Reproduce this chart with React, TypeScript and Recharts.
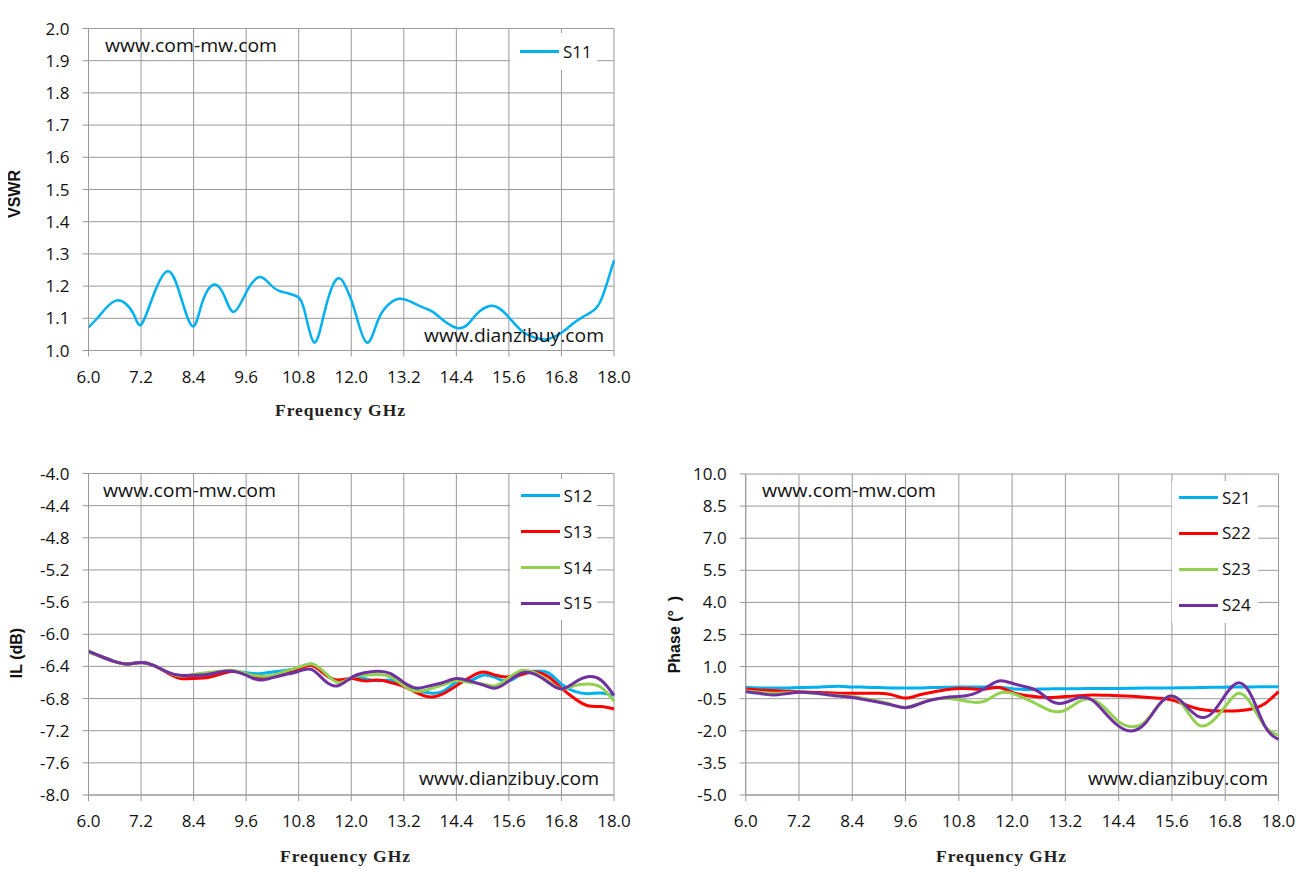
import { LineChart, Line, XAxis, YAxis, CartesianGrid, Legend } from "recharts";

const FONT = "'Open Sans', sans-serif";
const GRID = "#999999";

const CYAN = "#00B0F0";
const RED = "#FF0000";
const GREEN = "#92D050";
const PURPLE = "#7030A0";

// shared frequency axis ticks (GHz)
const freqTicks = [6.0, 7.2, 8.4, 9.6, 10.8, 12.0, 13.2, 14.4, 15.6, 16.8, 18.0];

// VSWR chart
const vswrTicks = [1.0, 1.1, 1.2, 1.3, 1.4, 1.5, 1.6, 1.7, 1.8, 1.9, 2.0];
const freqS11 = [
  6.0, 6.2, 6.4, 6.63, 6.85, 7.04, 7.2, 7.45, 7.8, 8.1, 8.38, 8.6, 8.87, 9.1, 9.32,
  9.6, 9.9, 10.15, 10.35, 10.55, 10.73, 10.92, 11.15, 11.39, 11.67, 11.9, 12.09, 12.35,
  12.6, 12.83, 13.06, 13.3, 13.62, 13.86, 14.14, 14.42, 14.65, 14.88, 15.16, 15.39,
  15.62, 15.9, 16.19, 16.47, 16.8, 17.03, 17.3, 17.58, 17.77, 18.0,
];
const s11 = [
  1.072, 1.1, 1.132, 1.155, 1.145, 1.11, 1.08, 1.16, 1.246, 1.17, 1.075, 1.15, 1.205,
  1.17, 1.12, 1.18, 1.228, 1.205, 1.185, 1.178, 1.17, 1.13, 1.025, 1.12, 1.222, 1.19,
  1.12, 1.025, 1.09, 1.14, 1.16, 1.155, 1.135, 1.12, 1.09, 1.07, 1.08, 1.115, 1.138,
  1.13, 1.1, 1.06, 1.04, 1.035, 1.055, 1.08, 1.105, 1.13, 1.18, 1.28,
];

// shared sample grid for IL and phase
const freqGrid = [
  6.0, 6.3, 6.6, 6.9, 7.2, 7.5, 7.8, 8.1, 8.4, 8.7, 9.0, 9.3, 9.6, 9.9, 10.2, 10.5,
  10.8, 11.1, 11.4, 11.7, 12.0, 12.3, 12.6, 12.9, 13.2, 13.5, 13.8, 14.1, 14.4, 14.7,
  15.0, 15.3, 15.6, 15.9, 16.2, 16.5, 16.8, 17.1, 17.4, 17.7, 18.0,
];

// insertion loss (dB)
const ilTicks = [-8.0, -7.6, -7.2, -6.8, -6.4, -6.0, -5.6, -5.2, -4.8, -4.4, -4.0];
const s12 = [
  -6.22, -6.28, -6.34, -6.37, -6.35, -6.39, -6.47, -6.53, -6.52, -6.51, -6.48, -6.46,
  -6.48, -6.49, -6.47, -6.45, -6.42, -6.37, -6.49, -6.58, -6.55, -6.55, -6.58, -6.57,
  -6.64, -6.7, -6.73, -6.71, -6.6, -6.58, -6.51, -6.54, -6.58, -6.49, -6.46, -6.48,
  -6.62, -6.71, -6.74, -6.73, -6.76,
];
const s13 = [
  -6.22, -6.28, -6.34, -6.37, -6.35, -6.39, -6.48, -6.55, -6.55, -6.54, -6.5, -6.46,
  -6.5, -6.55, -6.52, -6.49, -6.43, -6.39, -6.5, -6.57, -6.55, -6.58, -6.57, -6.6,
  -6.65, -6.73, -6.78, -6.74, -6.64, -6.54, -6.47, -6.51, -6.53, -6.5, -6.47, -6.53,
  -6.67, -6.8, -6.89, -6.9, -6.93,
];
const s14 = [
  -6.22, -6.28, -6.34, -6.37, -6.35, -6.39, -6.47, -6.52, -6.5, -6.48, -6.46, -6.45,
  -6.49, -6.52, -6.51, -6.46, -6.41, -6.37, -6.48, -6.6, -6.54, -6.51, -6.5, -6.53,
  -6.64, -6.71, -6.68, -6.63, -6.58, -6.6, -6.62, -6.64, -6.54, -6.45, -6.48, -6.58,
  -6.68, -6.64, -6.62, -6.66, -6.83,
];
const s15 = [
  -6.21, -6.28, -6.34, -6.37, -6.35, -6.39, -6.47, -6.51, -6.51, -6.5, -6.47, -6.46,
  -6.51, -6.57, -6.54, -6.5, -6.46, -6.44, -6.58, -6.64, -6.54, -6.48, -6.46, -6.49,
  -6.6, -6.67, -6.64, -6.6, -6.55, -6.58, -6.63, -6.67, -6.58, -6.48, -6.5, -6.6,
  -6.68, -6.6, -6.53, -6.57, -6.76,
];

// phase (deg)
const phaseTicks = [-5.0, -3.5, -2.0, -0.5, 1.0, 2.5, 4.0, 5.5, 7.0, 8.5, 10.0];
const s21 = [
  0.03, 0.0, 0.0, 0.0, 0.02, 0.03, 0.06, 0.08, 0.05, 0.04, 0.02, 0.0, 0.0, 0.0, 0.02,
  0.03, 0.05, 0.05, 0.05, 0.04, -0.03, -0.07, -0.05, -0.04, -0.03, -0.03, -0.02, -0.02,
  -0.02, -0.01, 0.0, 0.0, 0.0, 0.01, 0.02, 0.03, 0.04, 0.05, 0.05, 0.06, 0.06,
];
const s22 = [
  -0.05, -0.09, -0.12, -0.15, -0.18, -0.2, -0.22, -0.24, -0.25, -0.25, -0.25, -0.32,
  -0.47, -0.33, -0.2, -0.08, -0.02, -0.04, -0.05, 0.02, -0.2, -0.35, -0.42, -0.44,
  -0.4, -0.36, -0.33, -0.34, -0.36, -0.39, -0.43, -0.48, -0.56, -0.78, -0.98, -1.06,
  -1.07, -1.06, -0.98, -0.72, -0.17,
];
const s23 = [
  -0.14, -0.2, -0.25, -0.22, -0.2, -0.24, -0.3, -0.35, -0.4, -0.5, -0.62, -0.78, -0.9,
  -0.72, -0.55, -0.48, -0.55, -0.66, -0.6, -0.25, -0.25, -0.5, -0.8, -1.08, -1.03,
  -0.64, -0.53, -0.95, -1.57, -1.81, -1.57, -0.8, -0.37, -0.95, -1.73, -1.57, -0.87,
  -0.25, -0.8, -1.81, -2.2,
];
const s24 = [
  -0.17, -0.25, -0.33, -0.27, -0.2, -0.22, -0.3, -0.38, -0.44, -0.55, -0.67, -0.8,
  -0.92, -0.75, -0.55, -0.44, -0.4, -0.3, 0.0, 0.33, 0.22, 0.06, -0.17, -0.64, -0.68,
  -0.45, -0.56, -1.18, -1.78, -2.01, -1.65, -0.8, -0.37, -0.8, -1.34, -1.18, -0.33,
  0.25, -0.4, -1.81, -2.4,
];

const vswrData = freqS11.map((f, i) => ({ f, S11: s11[i] }));
const ilData = freqGrid.map((f, i) => ({ f, S12: s12[i], S13: s13[i], S14: s14[i], S15: s15[i] }));
const phaseData = freqGrid.map((f, i) => ({ f, S21: s21[i], S22: s22[i], S23: s23[i], S24: s24[i] }));

const tickStyle = { fill: "#111", fontSize: 17, fontFamily: FONT };
const fmt = (v: number) => v.toFixed(1);

function legendContent(rows: number[], lineLeft: number, textLeft: number) {
  return (props: any) => (
    <div style={{ position: "relative", width: "100%", height: "100%" }}>
      {(props.payload || []).map((p: any, i: number) => (
        <div key={p.value} style={{ position: "absolute", top: rows[i] - 10, left: 0, height: 20, width: "100%" }}>
          <div
            style={{
              position: "absolute",
              left: lineLeft,
              top: 8.75,
              width: 39,
              height: 2.5,
              background: p.color,
            }}
          />
          <span
            style={{
              position: "absolute",
              left: textLeft,
              top: 0,
              lineHeight: "20px",
              fontSize: 17,
              fontFamily: FONT,
              color: "#111",
            }}
          >
            {p.value}
          </span>
        </div>
      ))}
    </div>
  );
}

interface PanelProps {
  left: number;
  top: number;
  width: number;
  height: number;
  margin: { top: number; right: number; bottom: number; left: number };
  data: any[];
  yTicks: number[];
  series: { key: string; color: string }[];
  legendBox: { left: number; top: number; width: number; height: number };
  legendRows: number[];
  lineLeft: number;
  textLeft: number;
  strokeWidth: number;
}

function Panel(p: PanelProps) {
  return (
    <div style={{ position: "absolute", left: p.left, top: p.top }}>
      <LineChart width={p.width} height={p.height} data={p.data} margin={p.margin}>
        <CartesianGrid stroke={GRID} strokeWidth={1} />
        <XAxis
          dataKey="f"
          type="number"
          domain={[6, 18]}
          ticks={freqTicks}
          tickFormatter={fmt}
          interval={0}
          height={30}
          tick={tickStyle}
          tickSize={6}
          tickMargin={14}
          axisLine={{ stroke: GRID }}
          tickLine={{ stroke: GRID }}
        />
        <YAxis
          type="number"
          domain={[p.yTicks[0], p.yTicks[p.yTicks.length - 1]]}
          ticks={p.yTicks}
          tickFormatter={fmt}
          interval={0}
          width={60}
          tick={tickStyle}
          tickSize={6}
          tickMargin={13}
          axisLine={{ stroke: GRID }}
          tickLine={{ stroke: GRID }}
          allowDataOverflow
        />
        <Legend
          layout="horizontal"
          verticalAlign="middle"
          align="center"
          wrapperStyle={{ ...p.legendBox, background: "#fff", margin: 0, padding: 0 }}
          content={legendContent(p.legendRows, p.lineLeft, p.textLeft)}
        />
        {p.series.map((s) => (
          <Line
            key={s.key}
            dataKey={s.key}
            name={s.key}
            type="natural"
            stroke={s.color}
            strokeWidth={p.strokeWidth}
            dot={false}
            activeDot={false}
            isAnimationActive={false}
          />
        ))}
      </LineChart>
    </div>
  );
}

const titleStyle = { fontFamily: "'Liberation Serif', serif", fontWeight: 700, fontSize: 17.5, fill: "#222" };
const yTitleStyle = { fontFamily: "'Liberation Sans', Arial, sans-serif", fontWeight: 700, fontSize: 16, fill: "#111" };
const markStyle = { fontFamily: FONT, fontSize: 19, fill: "#111" };

export default function App() {
  return (
    <div style={{ position: "relative", width: 1292, height: 869 }}>
      <Panel
        left={0}
        top={0}
        width={640}
        height={430}
        margin={{ top: 20.5, right: 34, bottom: 57.5, left: 20.5 }}
        data={vswrData}
        yTicks={vswrTicks}
        series={[{ key: "S11", color: CYAN }]}
        legendBox={{ left: 502, top: 25, width: 87, height: 37 }}
        legendRows={[18.7]}
        lineLeft={10}
        textLeft={53}
        strokeWidth={2.5}
      />
      <Panel
        left={0}
        top={445}
        width={640}
        height={430}
        margin={{ top: 20.5, right: 34, bottom: 58, left: 20.5 }}
        data={ilData}
        yTicks={ilTicks}
        series={[
          { key: "S12", color: CYAN },
          { key: "S13", color: RED },
          { key: "S14", color: GREEN },
          { key: "S15", color: PURPLE },
        ]}
        legendBox={{ left: 502, top: 26, width: 87, height: 141 }}
        legendRows={[16.7, 52.7, 88.7, 124.3]}
        lineLeft={10.5}
        textLeft={53.5}
        strokeWidth={3}
      />
      <Panel
        left={650}
        top={445}
        width={650}
        height={430}
        margin={{ top: 21, right: 29.5, bottom: 58, left: 27.7 }}
        data={phaseData}
        yTicks={phaseTicks}
        series={[
          { key: "S21", color: CYAN },
          { key: "S22", color: RED },
          { key: "S23", color: GREEN },
          { key: "S24", color: PURPLE },
        ]}
        legendBox={{ left: 513.7, top: 27.7, width: 86.3, height: 142.3 }}
        legendRows={[17, 52.6, 88.6, 124.6]}
        lineLeft={7.3}
        textLeft={50.3}
        strokeWidth={3}
      />
      <svg
        width={1308}
        height={885}
        style={{ position: "absolute", left: -8, top: -8, pointerEvents: "none" }}
      >
        <text x={105} y={51.7} textLength={172} lengthAdjust="spacingAndGlyphs" style={markStyle}>www.com-mw.com</text>
        <text x={424} y={342} textLength={180} lengthAdjust="spacingAndGlyphs" style={markStyle}>www.dianzibuy.com</text>
        <text x={103} y={496.7} textLength={173} lengthAdjust="spacingAndGlyphs" style={markStyle}>www.com-mw.com</text>
        <text x={419} y={785} textLength={180} lengthAdjust="spacingAndGlyphs" style={markStyle}>www.dianzibuy.com</text>
        <text x={762} y={496.7} textLength={174} lengthAdjust="spacingAndGlyphs" style={markStyle}>www.com-mw.com</text>
        <text x={1088} y={785} textLength={180} lengthAdjust="spacingAndGlyphs" style={markStyle}>www.dianzibuy.com</text>

        <text x={275} y={416} textLength={130} lengthAdjust="spacing" style={titleStyle}>Frequency GHz</text>
        <text x={280} y={862} textLength={130} lengthAdjust="spacing" style={titleStyle}>Frequency GHz</text>
        <text x={936} y={862} textLength={130} lengthAdjust="spacing" style={titleStyle}>Frequency GHz</text>

        <text transform="translate(14.5,194) rotate(-90)" textAnchor="middle" dominantBaseline="central" style={yTitleStyle}>VSWR</text>
        <text transform="translate(16,653) rotate(-90)" textAnchor="middle" dominantBaseline="central" style={yTitleStyle}>IL (dB)</text>
        <text transform="translate(674.5,634.6) rotate(-90)" textAnchor="middle" dominantBaseline="central" style={{ ...yTitleStyle, whiteSpace: "pre" }}>Phase (°  )</text>
      </svg>
    </div>
  );
}
